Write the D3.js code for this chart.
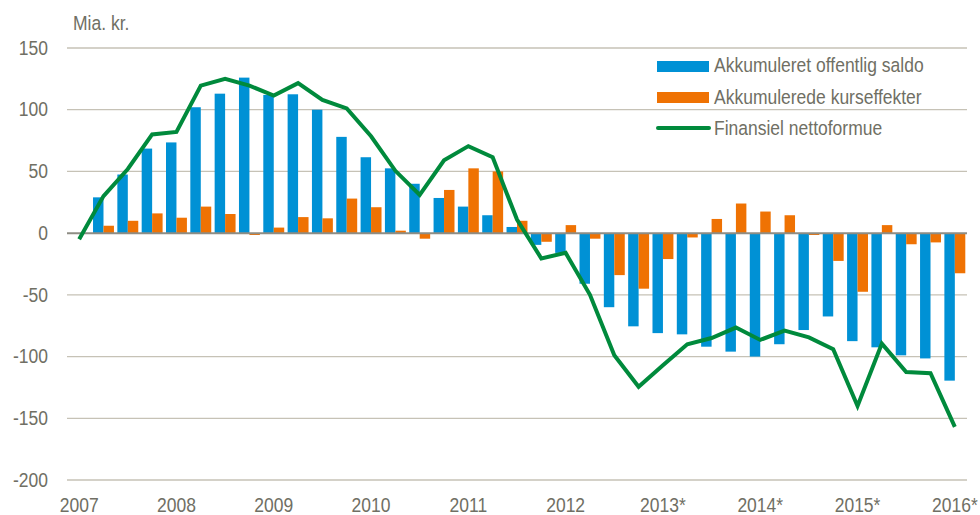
<!DOCTYPE html>
<html>
<head>
<meta charset="utf-8">
<script src="https://cdn.jsdelivr.net/npm/d3@7"></script>
<style>
  html,body{margin:0;padding:0;background:#fff;}
  svg{display:block;}
  text{font-family:"Liberation Sans",Arial,sans-serif;fill:#706f64;}
</style>
</head>
<body>
<div id="chart"></div>
<script>
// quarters 2007K1 .. 2016K1
const quarters = [];
for (let yr = 2007; yr <= 2016; yr++) for (let q = 1; q <= 4; q++) if (!(yr === 2016 && q > 1)) quarters.push(yr + "K" + q);

const xLabels = {"2007K1":"2007","2008K1":"2008","2009K1":"2009","2010K1":"2010","2011K1":"2011",
  "2012K1":"2012","2013K1":"2013*","2014K1":"2014*","2015K1":"2015*","2016K1":"2016*"};

// Akkumuleret offentlig saldo (mia. kr.)
const saldo = [null, 29, 47.5, 68.5, 73.5, 102, 113, 126, 112, 112.5, 100, 78, 61.5, 52.5, 40, 28.5, 21.5,
  14.5, 5, -9.5, -16, -41, -60, -75.5, -81, -82, -92, -96, -100, -90, -78.5, -67.5, -87.5, -92.5, -99, -101.5, -119.5];
// Akkumulerede kurseffekter
const kurs = [null, 6, 10, 16, 12.5, 21.5, 15.5, -1.5, 4.5, 13, 12, 28, 21, 2, -4.5, 35, 52.5,
  50, 10, -7, 6.5, -4.5, -34, -45, -21, -3.5, 11.5, 24, 17.5, 14.5, -1.5, -22.5, -47.5, 6.5, -9, -7.5, -32.5];
// Finansiel nettoformue
const netto = [-5, 30, 52, 80, 82, 119.5, 125, 119.5, 111.5, 121.5, 108, 101, 78.5, 50.5, 31, 59, 70.5,
  61.5, 11, -20.5, -16, -50, -99, -124.5, -107, -90, -85, -76.5, -86.5, -79, -84.5, -94, -140, -89.5, -112.5, -113.5, -157];

const yTicks = [150, 100, 50, 0, -50, -100, -150, -200];
const seriesNames = ["Akkumuleret offentlig saldo", "Akkumulerede kurseffekter", "Finansiel nettoformue"];
const COL = {saldo:"#0091d5", kurs:"#ef7203", netto:"#008a3c"};

const W = 980, H = 515;
const MG = {t:48, r:13, b:35, l:67};
const iW = W - MG.l - MG.r, iH = H - MG.t - MG.b;
const SY = 1.17; // text looks vertically stretched in the reference

const svg = d3.select("#chart").append("svg").attr("width", W).attr("height", H);
const g = svg.append("g").attr("transform", `translate(${MG.l},${MG.t})`);

const x = d3.scaleBand().domain(quarters).range([0, iW]).paddingInner(0.14).paddingOuter(0.07);
const xs = d3.scaleBand().domain(["saldo","kurs"]).range([0, x.bandwidth()]);
const y = d3.scaleLinear().domain([-200, 150]).range([iH, 0]);
const cx = q => x(q) + x.bandwidth() / 2;

// grid
g.append("g").selectAll("line").data(yTicks.filter(v => v !== 0)).join("line")
  .attr("x1", 0).attr("x2", iW).attr("y1", d => y(d)).attr("y2", d => y(d))
  .attr("stroke", "#c6c2b6").attr("stroke-width", 1.3);

// y axis labels (plain hyphen as minus, like the original)
const yAx = g.append("g").call(d3.axisLeft(y).tickValues(yTicks).tickSize(0).tickPadding(19).tickFormat(d => String(d)));
yAx.select(".domain").remove();
yAx.selectAll("text").attr("font-size", 17.5).attr("fill", "#706f64")
  .attr("font-family", '"Liberation Sans",Arial,sans-serif').attr("transform", `scale(1,${SY})`).attr("dy", "0.3em");

// x axis labels
const xAx = g.append("g").attr("transform", `translate(0,${iH})`)
  .call(d3.axisBottom(x).tickValues(Object.keys(xLabels)).tickSize(0).tickPadding(0).tickFormat(q => xLabels[q]));
xAx.select(".domain").remove();
xAx.selectAll("text").attr("font-size", 17.5).attr("fill", "#706f64")
  .attr("font-family", '"Liberation Sans",Arial,sans-serif')
  .attr("y", 0).attr("dy", 0).attr("transform", `translate(0,32) scale(1,${SY})`);

// bars
const rows = quarters.map((q, i) => ({q, saldo: saldo[i], kurs: kurs[i]}));
["saldo","kurs"].forEach(key => {
  g.append("g").selectAll("rect").data(rows.filter(d => d[key] != null)).join("rect")
    .attr("x", d => x(d.q) + xs(key)).attr("width", xs.bandwidth())
    .attr("y", d => y(Math.max(0, d[key]))).attr("height", d => Math.abs(y(d[key]) - y(0)))
    .attr("fill", COL[key]);
});

// zero line
g.append("line").attr("x1", 0).attr("x2", iW).attr("y1", y(0)).attr("y2", y(0))
  .attr("stroke", "#8e8d84").attr("stroke-width", 2);

// line
g.append("path").datum(quarters.map((q, i) => [cx(q), y(netto[i])]))
  .attr("d", d3.line()).attr("fill", "none").attr("stroke", COL.netto)
  .attr("stroke-width", 4).attr("stroke-linejoin", "miter");

// unit label
svg.append("text").attr("transform", `translate(73,30) scale(1,${SY})`)
  .attr("font-size", 17.5).text("Mia. kr.");

// legend
const lg = svg.append("g").attr("transform", "translate(657,0)");
lg.append("rect").attr("x", 0).attr("y", 61).attr("width", 52).attr("height", 11).attr("fill", COL.saldo);
lg.append("rect").attr("x", 0).attr("y", 92).attr("width", 52).attr("height", 11).attr("fill", COL.kurs);
lg.append("line").attr("x1", 1).attr("x2", 52).attr("y1", 128).attr("y2", 128)
  .attr("stroke", COL.netto).attr("stroke-width", 4).attr("stroke-linecap", "round");
[72, 103.5, 135].forEach((by, i) => {
  lg.append("text").attr("transform", `translate(57,${by}) scale(1,${SY})`)
    .attr("font-size", 17.5).text(seriesNames[i]);
});
</script>
</body>
</html>
